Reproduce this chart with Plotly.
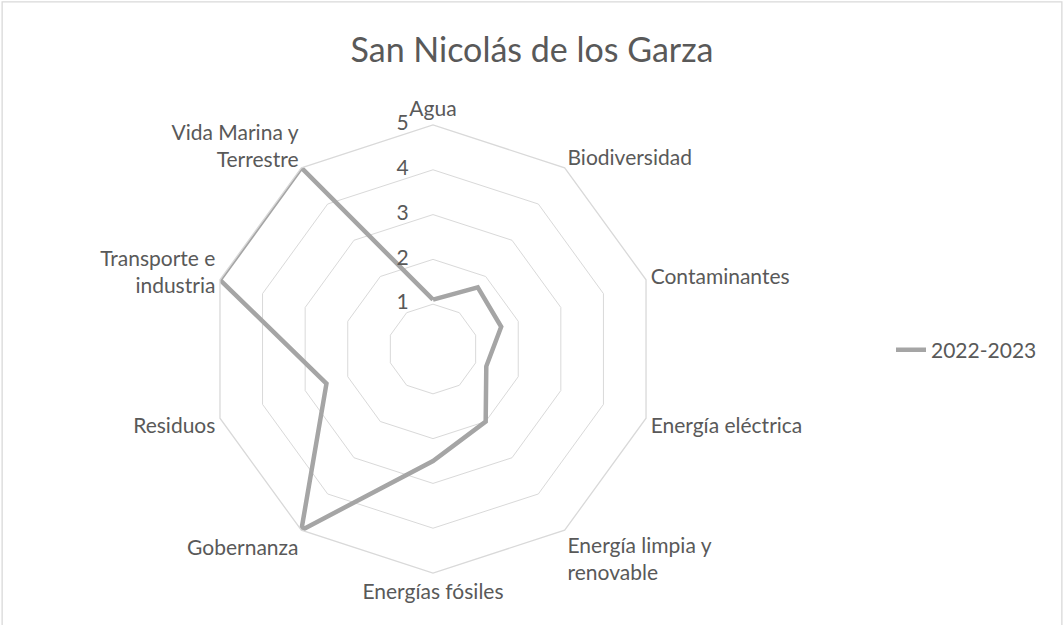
import plotly.graph_objects as go

categories = ["Agua", "Biodiversidad", "Contaminantes", "Energía eléctrica",
              "Energía limpia y<br>renovable", "Energías fósiles", "Gobernanza",
              "Residuos", "Transporte e<br>industria", "Vida Marina y<br>Terrestre"]
values = [1.1, 1.7, 1.6, 1.25, 2.0, 2.5, 5.0, 2.5, 5.0, 5.0]
series_name = "2022-2023"
radial_ticks = [0, 1, 2, 3, 4, 5]
title_text = "San Nicolás de los Garza"

W, H = 1064, 625
cx, cy, R = 433, 349, 224
FONT = "Lato, Carlito, Calibri, Liberation Sans, sans-serif"
PAD = '<span style="color:rgba(0,0,0,0)">00</span>'

fig = go.Figure()
fig.add_trace(go.Scatterpolar(
    r=values + values[:1],
    theta=categories + categories[:1],
    mode="lines",
    name=series_name,
    line=dict(color="#a5a5a5", width=4.5),
    showlegend=True,
))
# radial tick labels, placed on the first spoke through the polar scale
fig.add_trace(go.Scatterpolar(
    r=radial_ticks,
    theta=[categories[0]] * len(radial_ticks),
    mode="text",
    text=[f"{t}{PAD}" for t in radial_ticks],
    textposition="middle left",
    textfont=dict(size=21, color="#595959", family=FONT),
    cliponaxis=False,
    showlegend=False,
    hoverinfo="skip",
))

fig.update_layout(
    width=W, height=H,
    margin=dict(l=0, r=0, t=0, b=0),
    paper_bgcolor="white",
    plot_bgcolor="white",
    font=dict(family=FONT, color="#595959", size=21),
    title=dict(text=title_text, x=0.5, xanchor="center", y=1 - 50 / H, yanchor="middle",
               font=dict(size=34, color="#595959", family=FONT)),
    polar=dict(
        domain=dict(x=[(cx - R) / W, (cx + R) / W], y=[1 - (cy + R) / H, 1 - (cy - R) / H]),
        bgcolor="white",
        gridshape="linear",
        angularaxis=dict(
            rotation=90, direction="clockwise",
            showgrid=False, showline=True, linecolor="#d9d9d9", linewidth=1.3,
            ticks="", tickfont=dict(size=21, color="#595959", family=FONT),
        ),
        radialaxis=dict(
            range=[-0.001, 5], tickvals=radial_ticks, angle=90,
            showticklabels=False,
            showline=False, showgrid=True, gridcolor="#d9d9d9", gridwidth=1.3,
            ticks="",
        ),
    ),
    legend=dict(x=891 / W, y=1 - 350 / H, xanchor="left", yanchor="middle",
                font=dict(size=21, color="#595959", family=FONT), bgcolor="rgba(0,0,0,0)"),
    shapes=[dict(type="rect", xref="paper", yref="paper", x0=0.002, y0=-0.01, x1=0.998, y1=0.997,
                 line=dict(color="#d9d9d9", width=1.3), fillcolor="rgba(0,0,0,0)")],
)

fig.write_html("out.html", config={"displayModeBar": False},
               post_script="document.body.style.margin='0';document.body.style.padding='0';")
